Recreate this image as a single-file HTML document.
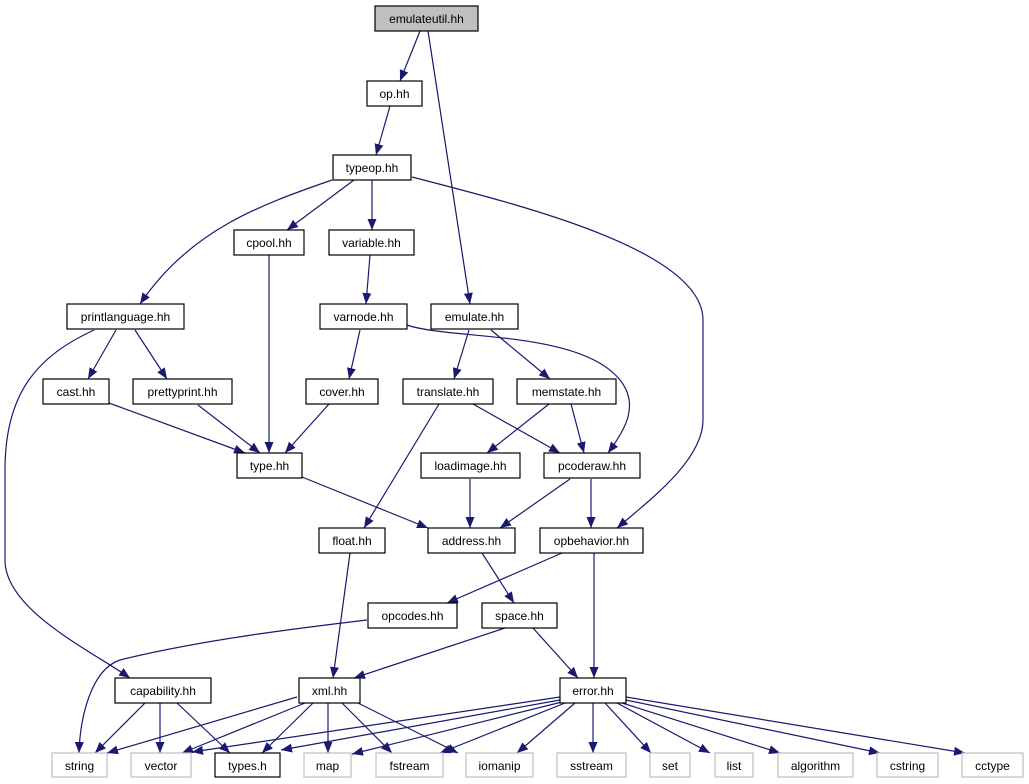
<!DOCTYPE html>
<html><head><meta charset="utf-8"><style>
html,body{margin:0;padding:0;background:#fff;}
svg{display:block;}
text{font-family:"Liberation Sans",sans-serif;font-size:12px;fill:#000;}
</style></head><body>
<svg width="1029" height="784" viewBox="0 0 1029 784" xmlns="http://www.w3.org/2000/svg">
<defs>
<marker id="a" markerWidth="12" markerHeight="10" refX="11" refY="4.5" orient="auto" markerUnits="userSpaceOnUse">
<path d="M0,0 L11,4.5 L0,9 Z" fill="#191970"/>
</marker>
</defs>
<g fill="none" stroke="#191970" stroke-width="1.2" marker-end="url(#a)">
<path d="M420,31 L400,81"/>
<path d="M428,31 L470,304"/>
<path d="M390,106 L376,155"/>
<path d="M332,180 C260,205 190,230 140,304"/>
<path d="M354,180 L287,230"/>
<path d="M372,180 L372,230"/>
<path d="M412,177 C520,205 703,250 703,320 L703,420 C703,460 650,500 617,528"/>
<path d="M269,255 L269,453"/>
<path d="M370,255 L366,304"/>
<path d="M116,330 L88,379"/>
<path d="M135,330 L167,379"/>
<path d="M94,330 C40,355 5,390 5,470 L5,560 C5,610 90,650 130,678"/>
<path d="M360,330 L349,379"/>
<path d="M407,325 C450,340 580,330 620,380 C640,405 625,430 608,453"/>
<path d="M469,330 L454,379"/>
<path d="M491,330 L550,379"/>
<path d="M109,403 L245,453"/>
<path d="M198,405 L260,453"/>
<path d="M329,404 L285,453"/>
<path d="M439,404 L364,528"/>
<path d="M473,404 L560,453"/>
<path d="M549,404 L487,453"/>
<path d="M571,404 L584,453"/>
<path d="M302,477 L428,528"/>
<path d="M470,479 L470,528"/>
<path d="M570,479 L500,528"/>
<path d="M591,479 L591,528"/>
<path d="M482,553 L514,603"/>
<path d="M562,553 L447,603"/>
<path d="M594,553 L594,678"/>
<path d="M350,553 L333,678"/>
<path d="M505,628 L354,678"/>
<path d="M533,628 L578,678"/>
<path d="M367,620 C300,628 200,640 120,660 C90,670 80,720 79,753"/>
<path d="M145,703 L95,753"/>
<path d="M160,703 L160,753"/>
<path d="M177,703 L230,753"/>
<path d="M297,697 L107,753"/>
<path d="M305,703 L182,753"/>
<path d="M313,703 L262,753"/>
<path d="M328,703 L328,753"/>
<path d="M342,703 L392,753"/>
<path d="M358,703 L458,753"/>
<path d="M560,697 L192,752"/>
<path d="M560,700 L281,750"/>
<path d="M562,702 L352,754"/>
<path d="M565,703 L440,753"/>
<path d="M575,703 L517,753"/>
<path d="M593,703 L593,753"/>
<path d="M605,703 L651,753"/>
<path d="M617,703 L710,753"/>
<path d="M622,703 L780,753"/>
<path d="M626,700 L880,753"/>
<path d="M626,697 L965,753"/>
</g>
<g stroke-width="1.2">
<g fill="#fff" stroke="#000">
<rect x="375" y="6" width="103" height="25" fill="#bfbfbf"/>
<rect x="367" y="81" width="55" height="25"/>
<rect x="333" y="155" width="78" height="25"/>
<rect x="234" y="230" width="70" height="25"/>
<rect x="329" y="230" width="85" height="25"/>
<rect x="67" y="304" width="117" height="25"/>
<rect x="320" y="304" width="87" height="25"/>
<rect x="431" y="304" width="87" height="25"/>
<rect x="43" y="379" width="66" height="25"/>
<rect x="133" y="379" width="99" height="25"/>
<rect x="306" y="379" width="72" height="25"/>
<rect x="403" y="379" width="90" height="25"/>
<rect x="517" y="379" width="99" height="25"/>
<rect x="237" y="453" width="65" height="25"/>
<rect x="421" y="453" width="99" height="25"/>
<rect x="544" y="453" width="96" height="25"/>
<rect x="319" y="528" width="66" height="25"/>
<rect x="428" y="528" width="87" height="25"/>
<rect x="540" y="528" width="103" height="25"/>
<rect x="368" y="603" width="89" height="25"/>
<rect x="482" y="603" width="75" height="25"/>
<rect x="115" y="678" width="96" height="25"/>
<rect x="299" y="678" width="61" height="25"/>
<rect x="560" y="678" width="66" height="25"/>
<rect x="215" y="753" width="65" height="24"/>
</g>
<g fill="#fff" stroke="#bfbfbf">
<rect x="52" y="753" width="55" height="24"/>
<rect x="131" y="753" width="60" height="24"/>
<rect x="304" y="753" width="47" height="24"/>
<rect x="376" y="753" width="67" height="24"/>
<rect x="466" y="753" width="67" height="24"/>
<rect x="557" y="753" width="69" height="24"/>
<rect x="650" y="753" width="40" height="24"/>
<rect x="715" y="753" width="38" height="24"/>
<rect x="778" y="753" width="75" height="24"/>
<rect x="877" y="753" width="61" height="24"/>
<rect x="962" y="753" width="61" height="24"/>
</g>
</g>
<g text-anchor="middle">
<text x="426.5" y="23">emulateutil.hh</text>
<text x="394.5" y="98">op.hh</text>
<text x="372" y="172">typeop.hh</text>
<text x="269" y="247">cpool.hh</text>
<text x="371.5" y="247">variable.hh</text>
<text x="125.5" y="321">printlanguage.hh</text>
<text x="363.5" y="321">varnode.hh</text>
<text x="474.5" y="321">emulate.hh</text>
<text x="76" y="396">cast.hh</text>
<text x="182.5" y="396">prettyprint.hh</text>
<text x="342" y="396">cover.hh</text>
<text x="448" y="396">translate.hh</text>
<text x="566.5" y="396">memstate.hh</text>
<text x="269.5" y="470">type.hh</text>
<text x="470.5" y="470">loadimage.hh</text>
<text x="592" y="470">pcoderaw.hh</text>
<text x="352" y="545">float.hh</text>
<text x="471.5" y="545">address.hh</text>
<text x="591.5" y="545">opbehavior.hh</text>
<text x="412.5" y="620">opcodes.hh</text>
<text x="519.5" y="620">space.hh</text>
<text x="163" y="695">capability.hh</text>
<text x="329.5" y="695">xml.hh</text>
<text x="593" y="695">error.hh</text>
<text x="79.5" y="770">string</text>
<text x="161" y="770">vector</text>
<text x="247.5" y="770">types.h</text>
<text x="327.5" y="770">map</text>
<text x="409.5" y="770">fstream</text>
<text x="499.5" y="770">iomanip</text>
<text x="591.5" y="770">sstream</text>
<text x="670" y="770">set</text>
<text x="734" y="770">list</text>
<text x="815.5" y="770">algorithm</text>
<text x="907.5" y="770">cstring</text>
<text x="992.5" y="770">cctype</text>
</g>
</svg>
</body></html>
